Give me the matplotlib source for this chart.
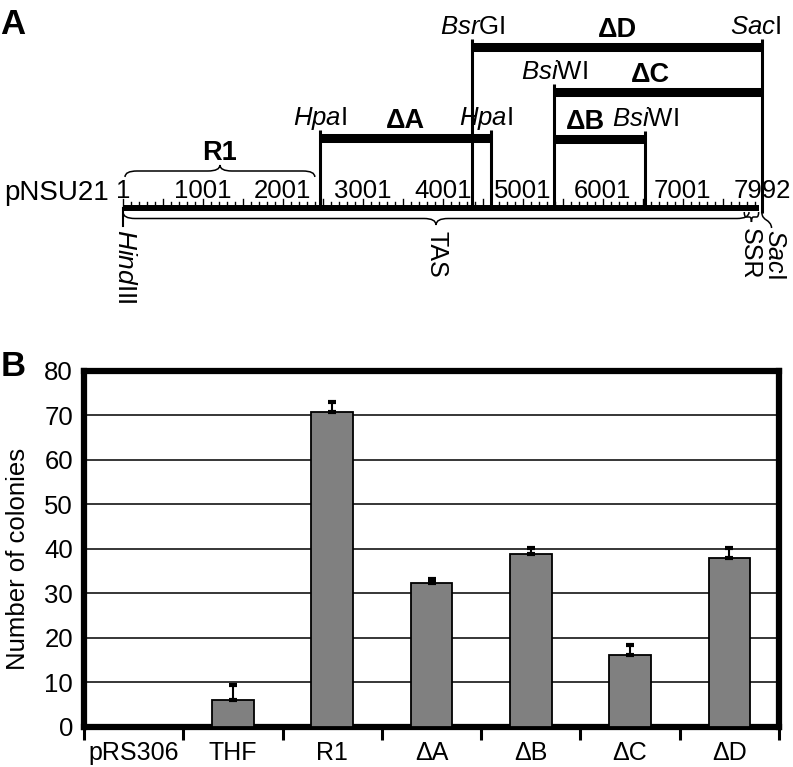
import numpy as np
import matplotlib
matplotlib.use("Agg")
import matplotlib.pyplot as plt
from matplotlib.path import Path
from matplotlib.patches import PathPatch

plt.rcParams['font.family'] = ['Liberation Sans', 'DejaVu Sans']
plt.rcParams['mathtext.fontset'] = 'custom'
plt.rcParams['mathtext.rm'] = 'Liberation Sans'
plt.rcParams['mathtext.it'] = 'Liberation Sans:italic'
plt.rcParams['mathtext.bf'] = 'Liberation Sans:bold'

# ---- panel A data (positions in bp) ----
plasmid_name = 'pNSU21'
plasmid_len = 7992
ruler_end = 7950
ruler_labels = [1, 1001, 2001, 3001, 4001, 5001, 6001, 7001, 7992]
site_names = ['HindIII', 'HpaI', 'BsrGI', 'HpaI', 'BsiWI', 'BsiWI', 'SacI']
site_pos = [1, 2460, 4370, 4600, 5390, 6530, 7992]
del_names = ['ΔA', 'ΔB', 'ΔC', 'ΔD']
del_start = [2460, 5390, 5390, 4370]
del_end = [4600, 6530, 7992, 7992]
region_names = ['R1', 'TAS', 'SSR']
region_start = [26, 1, 7770]
region_end = [2400, 7830, 7950]

# ---- panel B data ----
groups = ['pRS306', 'THF', 'R1', 'ΔA', 'ΔB', 'ΔC', 'ΔD']
colonies = [0, 6.0, 70.6, 32.4, 38.9, 16.1, 38.0]
errors = [0, 3.4, 2.3, 0.8, 1.3, 2.2, 2.2]

W, H = 793, 767
fig = plt.figure(figsize=(W / 100, H / 100), dpi=100)

# ---------------- panel A ----------------
# x in bp, y in pixels from top of the figure
px_per_bp = 639 / 7991
x0_px = 123
axA = fig.add_axes([0, 1 - 330 / H, 1, 330 / H])
axA.set_xlim(1 - x0_px / px_per_bp, 1 + (W - x0_px) / px_per_bp)
axA.set_ylim(330, 0)
axA.axis('off')

fs_site = 18.5
fs_del = 19.5
fs_rot = 18

ruler_y = 208
axA.plot([1, ruler_end], [ruler_y, ruler_y], color='black', lw=4.3, solid_capstyle='butt')
for t in range(1, ruler_end + 1, 100):
    top = 199.5 if (t - 1) % 500 == 0 else 202
    axA.plot([t, t], [ruler_y, top], color='black', lw=1.0)
for v in ruler_labels:
    axA.text(v, 198, str(v), ha='center', va='baseline', fontsize=18.5)
axA.text(-180, 200, plasmid_name, ha='right', va='baseline', fontsize=20)

# deletion bars
bar_y = {'ΔA': 138, 'ΔB': 139, 'ΔC': 92, 'ΔD': 47}
label_nudge = {'ΔB': -170, 'ΔC': -90}
for name, s, e in zip(del_names, del_start, del_end):
    y = bar_y[name]
    axA.plot([s, e], [y, y], color='black', lw=6.5, solid_capstyle='butt')
    axA.text((s + e) / 2 + label_nudge.get(name, 0), y - 10, name,
             ha='center', va='baseline', fontsize=fs_del, fontweight='bold')

# restriction sites: vertical line up to the highest bar using the site
site_nudge = {4600: -60, 7992: -75}
for name, p in zip(site_names, site_pos):
    ys = [bar_y[d] for d, s, e in zip(del_names, del_start, del_end) if p in (s, e)]
    ital = name[:4] if name.startswith('Hind') else name[:3]
    rest = name[len(ital):]
    label = r'$\mathit{%s}$%s' % (ital, rest)
    if not ys:
        # HindIII below the ruler
        axA.plot([p, p], [ruler_y, 226], color='black', lw=1.5)
        axA.text(p + 25, 229, label, rotation=-90, ha='center', va='top', fontsize=fs_rot + 1)
        continue
    top = min(ys)
    bottom = 213 if p == plasmid_len else ruler_y
    axA.plot([p, p], [top - 8, bottom], color='black', lw=2.2, solid_capstyle='butt')
    axA.text(p + site_nudge.get(p, 0), top - 13, label, ha='center', va='baseline', fontsize=fs_site)
    if p == plasmid_len:
        # SacI squiggle down to the rotated label
        verts = [(p, 213), (p, 221), (p + 110, 219), (p + 120, 228)]
        axA.add_patch(PathPatch(Path(verts, [Path.MOVETO, Path.CURVE4, Path.CURVE4, Path.CURVE4]),
                                fill=False, lw=1.1, color='black'))
        axA.text(p + 165, 229, label, rotation=-90, ha='center', va='top', fontsize=fs_rot)


def brace(ax, x0, x1, y, h, q, lw=1.1):
    xm = (x0 + x1) / 2
    ym = y + h / 2
    yt = y + h
    verts = [(x0, y), (x0, ym), (x0 + q, ym),
             (xm - q, ym), (xm, ym), (xm, yt),
             (xm, ym), (xm + q, ym),
             (x1 - q, ym), (x1, ym), (x1, y)]
    codes = [Path.MOVETO, Path.CURVE3, Path.CURVE3, Path.LINETO, Path.CURVE3, Path.CURVE3,
             Path.CURVE3, Path.CURVE3, Path.LINETO, Path.CURVE3, Path.CURVE3]
    ax.add_patch(PathPatch(Path(verts, codes), fill=False, lw=lw, color='black'))
    return xm


# R1 above, TAS and SSR below
xm = brace(axA, region_start[0], region_end[0], 177, -12, 150)
axA.text(xm, 160, region_names[0], ha='center', va='baseline', fontsize=fs_del, fontweight='bold')
xm = brace(axA, region_start[1], region_end[1], 212, 13, 150)
axA.text(xm, 231, region_names[1], rotation=-90, ha='center', va='top', fontsize=fs_rot)
xm = brace(axA, region_start[2], region_end[2], 212, 10, 25)
axA.text(xm - 20, 228, region_names[2], rotation=-90, ha='center', va='top', fontsize=fs_rot)

# ---------------- panel B ----------------
axB = fig.add_axes([84 / W, 1 - 727 / H, (779 - 84) / W, (727 - 370.5) / H])
x = np.arange(len(groups))
axB.bar(x, colonies, width=0.42, color='#808080', edgecolor='black', lw=1.3, zorder=3)
idx = [i for i, e in enumerate(errors) if e > 0]
axB.errorbar(x[idx], [colonies[i] for i in idx],
             yerr=[[0] * len(idx), [errors[i] for i in idx]],
             fmt='none', ecolor='black', elinewidth=1.5, capsize=3, capthick=3, zorder=4)
axB.set_xlim(-0.5, len(groups) - 0.5)
axB.set_ylim(0, 80)
axB.set_yticks(range(0, 81, 10))
axB.yaxis.grid(True, color='black', lw=1.1)
axB.set_axisbelow(True)
axB.tick_params(axis='y', length=0, pad=8, labelsize=18.5)
axB.set_xticks(x)
axB.set_xticklabels(groups)
axB.tick_params(axis='x', which='major', length=0, pad=10, labelsize=18)
axB.set_xticks(np.arange(-0.5, len(groups)), minor=True)
axB.tick_params(axis='x', which='minor', length=9, width=2.2, direction='out')
for sp in axB.spines.values():
    sp.set_linewidth(4.5)
axB.set_ylabel('Number of colonies', fontsize=18.5)
axB.yaxis.set_label_coords(-0.078, 0.471)

fig.text(0 / W, 1 - 24 / H, 'A', fontsize=25, fontweight='bold', va='center', ha='left')
fig.text(1 / W, 1 - 366 / H, 'B', fontsize=25, fontweight='bold', va='center', ha='left')

fig.savefig('out.png', dpi=100)
